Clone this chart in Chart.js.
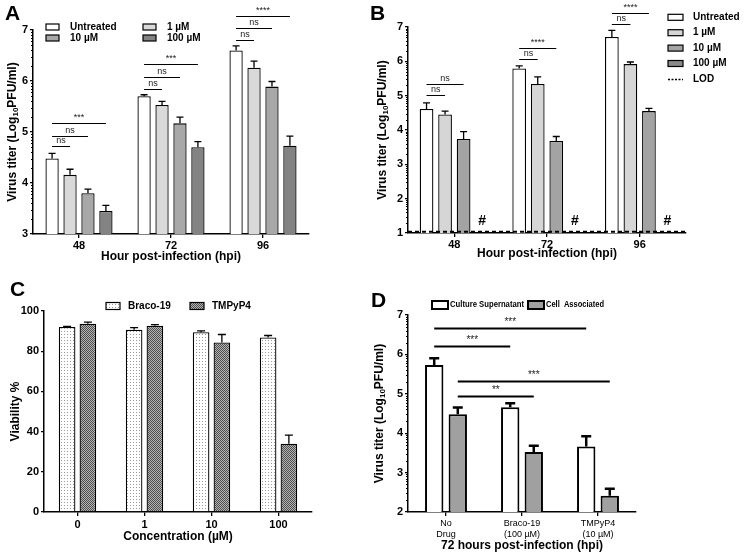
<!DOCTYPE html>
<html>
<head>
<meta charset="utf-8">
<script src="https://cdn.jsdelivr.net/npm/chart.js@4.4.1/dist/chart.umd.min.js"></script>
<style>
  body { margin: 0; background: #fff; }
  #fig { position: relative; width: 744px; height: 554px; overflow: hidden; background: #fff; }
  #fig canvas { position: absolute; }
  .tag { position: absolute; font: bold 21px "Liberation Sans", Arial, sans-serif; line-height: 21px; color: #000; }
</style>
</head>
<body>
<div id="fig">
  <canvas id="chartA" width="372" height="270" style="left:0;top:0"></canvas>
  <canvas id="chartB" width="372" height="270" style="left:372px;top:0"></canvas>
  <canvas id="chartC" width="372" height="284" style="left:0;top:270px"></canvas>
  <canvas id="chartD" width="372" height="284" style="left:372px;top:270px"></canvas>
  <div class="tag" style="left:5px;top:2px">A</div>
  <div class="tag" style="left:370px;top:2px">B</div>
  <div class="tag" style="left:10px;top:278px">C</div>
  <div class="tag" style="left:371px;top:289px">D</div>
</div>
<script>
// ---- data ----
const hpiLabels = ['48', '72', '96'];
const doseNames = ['Untreated', '1 µM', '10 µM', '100 µM'];

// Panel A: virus titer, log10 PFU/ml (mean, +SEM)
const aUntreated = [4.48, 5.70, 6.60];
const aUntreatedErr = [0.10, 0.03, 0.09];
const a1uM = [4.16, 5.53, 6.26];
const a1uMErr = [0.11, 0.07, 0.13];
const a10uM = [3.80, 5.17, 5.89];
const a10uMErr = [0.08, 0.12, 0.10];
const a100uM = [3.45, 4.70, 4.73];
const a100uMErr = [0.11, 0.11, 0.19];
// [group, from bar, to bar, level, label]
const sigA = [
    [0, 0, 1, 4.72, 'ns'], [0, 0, 2, 4.93, 'ns'], [0, 0, 3, 5.17, '***'],
    [1, 0, 1, 5.84, 'ns'], [1, 0, 2, 6.08, 'ns'], [1, 0, 3, 6.34, '***'],
    [2, 0, 1, 6.80, 'ns'], [2, 0, 2, 7.03, 'ns'], [2, 0, 3, 7.28, '****']
];

// Panel B
const bUntreated = [4.61, 5.79, 6.71];
const bUntreatedErr = [0.18, 0.08, 0.19];
const b1uM = [4.45, 5.34, 5.92];
const b1uMErr = [0.10, 0.21, 0.06];
const b10uM = [3.74, 3.68, 4.55];
const b10uMErr = [0.21, 0.13, 0.08];
const b100uM = [null, null, null];   // below LOD, marked '#'
const b100uMErr = [0, 0, 0];
const lodB = 1.04;
const hashLevelB = 1.34;
const sigB = [
    [0, 0, 1, 5.02, 'ns'], [0, 0, 2, 5.35, 'ns'],
    [1, 0, 1, 6.07, 'ns'], [1, 0, 2, 6.40, '****'],
    [2, 0, 1, 7.10, 'ns'], [2, 0, 2, 7.41, '****']
];

// Panel C: viability %
const concLabels = ['0', '1', '10', '100'];
const cBraco = [92.1, 90.7, 89.4, 86.8];
const cBracoErr = [0.3, 1.0, 0.7, 1.0];
const cTmpyp = [93.7, 92.6, 84.3, 34.0];
const cTmpypErr = [0.8, 0.6, 4.0, 4.2];

// Panel D: 72 hpi
const drugLabels = [['No', 'Drug'], ['Braco-19', '(100 µM)'], ['TMPyP4', '(10 µM)']];
const dSupernatant = [5.73, 4.66, 3.66];
const dSupernatantErr = [0.17, 0.10, 0.26];
const dCellAssoc = [4.48, 3.52, 2.41];
const dCellAssocErr = [0.17, 0.16, 0.18];
// [group from, dataset from, group to, dataset to, level, label]
const sigD = [
    [0, 0, 1, 0, 6.22, '***'], [0, 0, 2, 0, 6.66, '***'],
    [0, 1, 1, 1, 4.95, '**'], [0, 1, 2, 1, 5.33, '***']
];

// ---- drawing helpers ----
const FONT = '"Liberation Sans", Arial, sans-serif';
Chart.defaults.font.family = FONT;
Chart.defaults.color = '#000';

function makePattern(size, paint) {
    const c = document.createElement('canvas');
    c.width = size; c.height = size;
    paint(c.getContext('2d'));
    return c.getContext('2d').createPattern(c, 'repeat');
}
const dotPattern = makePattern(3, g => {
    g.fillStyle = '#fff'; g.fillRect(0, 0, 3, 3);
    g.fillStyle = '#9a9a9a'; g.fillRect(1, 1, 1, 1);
});
const checkPattern = makePattern(2, g => {
    g.fillStyle = '#b4b4b4'; g.fillRect(0, 0, 2, 2);
    g.fillStyle = '#4e4e4e'; g.fillRect(0, 0, 1, 1); g.fillRect(1, 1, 1, 1);
});

const figPlugin = {
    id: 'fig',
    afterDatasetsDraw(chart, args, o) {
        const ctx = chart.ctx;
        const ys = chart.scales.y;
        const area = chart.chartArea;
        ctx.save();
        ctx.strokeStyle = '#000';
        ctx.fillStyle = '#000';

        // log-style minor ticks on y axis
        if (o.logMinor) {
            ctx.lineWidth = 1;
            for (let k = ys.min; k < ys.max; k++) {
                for (let m = 2; m <= 9; m++) {
                    const py = Math.round(ys.getPixelForValue(k + Math.log10(m))) + 0.5;
                    ctx.beginPath();
                    ctx.moveTo(area.left, py);
                    ctx.lineTo(area.left - 2, py);
                    ctx.stroke();
                }
            }
        }

        // limit of detection
        if (o.lod != null) {
            const py = ys.getPixelForValue(o.lod);
            ctx.lineWidth = 2;
            ctx.setLineDash([4, 3]);
            ctx.beginPath();
            ctx.moveTo(area.left, py);
            ctx.lineTo(area.right, py);
            ctx.stroke();
            ctx.setLineDash([]);
        }

        // error bars (upper only)
        chart.data.datasets.forEach((ds, i) => {
            if (!ds.errors) return;
            const meta = chart.getDatasetMeta(i);
            meta.data.forEach((bar, j) => {
                const v = ds.data[j];
                if (v == null) return;
                const top = ys.getPixelForValue(v + ds.errors[j]);
                ctx.lineWidth = o.errWidth;
                ctx.beginPath();
                ctx.moveTo(bar.x, bar.y);
                ctx.lineTo(bar.x, top);
                ctx.moveTo(bar.x - o.cap, top);
                ctx.lineTo(bar.x + o.cap, top);
                ctx.stroke();
            });
        });

        // '#' markers for values below detection
        if (o.hash) {
            ctx.font = 'bold 14px ' + FONT;
            ctx.textAlign = 'center';
            ctx.textBaseline = 'middle';
            const meta = chart.getDatasetMeta(o.hash.dataset);
            meta.data.forEach(bar => {
                ctx.fillText('#', bar.x, ys.getPixelForValue(o.hash.level));
            });
        }

        // significance lines
        if (o.sig) {
            ctx.font = o.sigFont;
            ctx.textAlign = 'center';
            ctx.textBaseline = 'bottom';
            ctx.lineWidth = o.sigWidth;
            o.sig.forEach(s => {
                const x1 = chart.getDatasetMeta(s[1]).data[s[0]].x;
                const x2 = chart.getDatasetMeta(s[3]).data[s[2]].x;
                const py = Math.round(ys.getPixelForValue(s[4])) + 0.5;
                ctx.beginPath();
                ctx.moveTo(x1, py);
                ctx.lineTo(x2, py);
                ctx.stroke();
                ctx.fillStyle = '#222';
                ctx.fillText(s[5], (x1 + x2) / 2, py - 1);
            });
        }
        ctx.restore();
    },
    afterDraw(chart, args, o) {
        const ctx = chart.ctx;
        const area = chart.chartArea;
        ctx.save();
        ctx.fillStyle = '#000';

        // y title, with subscript parts
        if (o.yTitle) {
            const t = o.yTitle;
            ctx.translate(t.x, (area.top + area.bottom) / 2);
            ctx.rotate(-Math.PI / 2);
            ctx.textBaseline = 'middle';
            ctx.textAlign = 'left';
            let total = 0;
            t.parts.forEach(p => {
                ctx.font = p[1] ? 'bold 8px ' + FONT : 'bold 12px ' + FONT;
                total += ctx.measureText(p[0]).width;
            });
            let cx = -total / 2;
            t.parts.forEach(p => {
                ctx.font = p[1] ? 'bold 8px ' + FONT : 'bold 12px ' + FONT;
                ctx.fillText(p[0], cx, p[1] ? 3 : 0);
                cx += ctx.measureText(p[0]).width;
            });
            ctx.setTransform(1, 0, 0, 1, 0, 0);
        }

        // x title
        if (o.xTitle) {
            ctx.font = 'bold 12px ' + FONT;
            ctx.textAlign = 'center';
            ctx.textBaseline = 'middle';
            ctx.fillText(o.xTitle.text, (area.left + area.right) / 2, o.xTitle.y);
        }

        // legend
        if (o.legend) {
            const L = o.legend;
            const items = chart.data.datasets.map(ds => ({ text: ds.label, fill: ds.backgroundColor }));
            if (L.extraDash) items.push({ text: L.extraDash, dash: true });
            ctx.font = L.font;
            ctx.textBaseline = 'middle';
            ctx.textAlign = 'left';
            items.forEach((it, i) => {
                const col = i % L.cols;
                const row = Math.floor(i / L.cols);
                const bx = L.x + col * L.colW;
                const by = L.y + row * L.rowH;
                if (it.dash) {
                    ctx.strokeStyle = '#000';
                    ctx.lineWidth = 1.5;
                    ctx.setLineDash([2, 1.5]);
                    ctx.beginPath();
                    ctx.moveTo(bx, by + 0.5);
                    ctx.lineTo(bx + L.boxW, by + 0.5);
                    ctx.stroke();
                    ctx.setLineDash([]);
                } else {
                    ctx.fillStyle = it.fill;
                    ctx.fillRect(bx, by - L.boxH / 2, L.boxW, L.boxH);
                    ctx.strokeStyle = '#000';
                    ctx.lineWidth = L.lw;
                    ctx.strokeRect(bx, by - L.boxH / 2, L.boxW, L.boxH);
                }
                ctx.fillStyle = '#000';
                if (L.textMax) ctx.fillText(it.text, bx + L.textDx, by, L.textMax[i]);
                else ctx.fillText(it.text, bx + L.textDx, by);
            });
        }
        ctx.restore();
    }
};

function barSet(label, data, errors, color, bw) {
    return {
        label: label, data: data, errors: errors,
        backgroundColor: color, borderColor: '#000', borderWidth: bw
    };
}

function panel(id, area, labels, datasets, ySpec, xSpec, fig) {
    const cv = document.getElementById(id);
    return new Chart(cv, {
        type: 'bar',
        data: { labels: labels, datasets: datasets },
        options: {
            responsive: false,
            animation: false,
            events: [],
            categoryPercentage: xSpec.cat,
            barPercentage: xSpec.bar,
            layout: { padding: { top: area.top, right: cv.width - area.right, bottom: 0, left: 0 } },
            plugins: { legend: { display: false }, tooltip: { enabled: false }, fig: fig },
            scales: {
                x: {
                    grid: { display: true, drawOnChartArea: false, offset: false, tickLength: 4, color: '#000', lineWidth: 1.3 },
                    border: { color: '#000', width: 1.5 },
                    ticks: { font: xSpec.font, padding: xSpec.pad, color: '#000', maxRotation: 0, autoSkip: false },
                    afterFit: s => { s.height = cv.height - area.bottom; }
                },
                y: {
                    min: ySpec.min, max: ySpec.max,
                    grid: { display: true, drawOnChartArea: false, tickLength: 3, color: '#000', lineWidth: 1.3 },
                    border: { color: '#000', width: 1.5 },
                    ticks: { stepSize: ySpec.step, font: { size: 11, weight: 'bold' }, padding: 2, color: '#000' },
                    afterFit: s => { s.width = area.left; }
                }
            }
        },
        plugins: [figPlugin]
    });
}

const titerTitle = [['Virus titer (Log', 0], ['10', 1], ['PFU/ml)', 0]];

// Panel A
panel('chartA', { left: 33, right: 309, top: 30, bottom: 234 }, hpiLabels, [
    barSet(doseNames[0], aUntreated, aUntreatedErr, '#ffffff', 1.3),
    barSet(doseNames[1], a1uM, a1uMErr, '#d9d9d9', 1.3),
    barSet(doseNames[2], a10uM, a10uMErr, '#a8a8a8', 1.3),
    barSet(doseNames[3], a100uM, a100uMErr, '#838383', 1.3)
], { min: 3, max: 7, step: 1 }, { cat: 0.78, bar: 0.74, font: { size: 11, weight: 'bold' }, pad: 1 }, {
    logMinor: true, errWidth: 1.3, cap: 3.5,
    sig: sigA.map(s => [s[0], s[1], s[0], s[2], s[3], s[4]]), sigFont: '9px ' + FONT, sigWidth: 1,
    yTitle: { parts: titerTitle, x: 13 },
    xTitle: { text: 'Hour post-infection (hpi)', y: 257 },
    legend: { x: 46, y: 27, cols: 2, colW: 97, rowH: 11, boxW: 13, boxH: 6, lw: 1.2, textDx: 24, font: 'bold 10px ' + FONT }
});

// Panel B
panel('chartB', { left: 36, right: 314, top: 27, bottom: 233 }, hpiLabels, [
    barSet(doseNames[0], bUntreated, bUntreatedErr, '#ffffff', 1.3),
    barSet(doseNames[1], b1uM, b1uMErr, '#d6d6d6', 1.3),
    barSet(doseNames[2], b10uM, b10uMErr, '#a3a3a3', 1.3),
    barSet(doseNames[3], b100uM, b100uMErr, '#8a8a8a', 1.3)
], { min: 1, max: 7, step: 1 }, { cat: 0.8, bar: 0.74, font: { size: 11, weight: 'bold' }, pad: 1 }, {
    logMinor: true, errWidth: 1.3, cap: 3.5, lod: lodB,
    hash: { dataset: 3, level: hashLevelB },
    sig: sigB.map(s => [s[0], s[1], s[0], s[2], s[3], s[4]]), sigFont: '9px ' + FONT, sigWidth: 1,
    yTitle: { parts: titerTitle, x: 11 },
    xTitle: { text: 'Hour post-infection (hpi)', y: 254 },
    legend: { x: 296, y: 17.3, cols: 1, colW: 0, rowH: 15.4, boxW: 15, boxH: 6, lw: 1.2, textDx: 25, font: 'bold 10px ' + FONT, extraDash: 'LOD' }
});

// Panel C
panel('chartC', { left: 44, right: 312, top: 41, bottom: 242 }, concLabels, [
    barSet('Braco-19', cBraco, cBracoErr, dotPattern, 1.3),
    barSet('TMPyP4', cTmpyp, cTmpypErr, checkPattern, 1.3)
], { min: 0, max: 100, step: 20 }, { cat: 0.62, bar: 0.8, font: { size: 11, weight: 'bold' }, pad: 2 }, {
    errWidth: 1.3, cap: 4,
    yTitle: { parts: [['Viability %', 0]], x: 16 },
    xTitle: { text: 'Concentration (µM)', y: 267 },
    legend: { x: 106, y: 36, cols: 2, colW: 84, rowH: 0, boxW: 14, boxH: 7, lw: 1.2, textDx: 22, font: 'bold 10px ' + FONT }
});

// Panel D
panel('chartD', { left: 36, right: 264, top: 45, bottom: 242 }, drugLabels, [
    barSet('Culture Supernatant', dSupernatant, dSupernatantErr, '#ffffff', 2),
    barSet('Cell  Associated', dCellAssoc, dCellAssocErr, '#a0a0a0', 2)
], { min: 2, max: 7, step: 1 }, { cat: 0.62, bar: 0.78, font: { size: 9 }, pad: 2 }, {
    logMinor: true, errWidth: 2.5, cap: 5,
    sig: sigD, sigFont: '10px ' + FONT, sigWidth: 2,
    yTitle: { parts: titerTitle, x: 8 },
    xTitle: { text: '72 hours post-infection (hpi)', y: 276 },
    legend: { x: 60, y: 35, cols: 2, colW: 96, rowH: 0, boxW: 16, boxH: 8, lw: 2, textDx: 18, font: 'bold 9px ' + FONT, textMax: [74, 58] }
});
</script>
</body>
</html>
